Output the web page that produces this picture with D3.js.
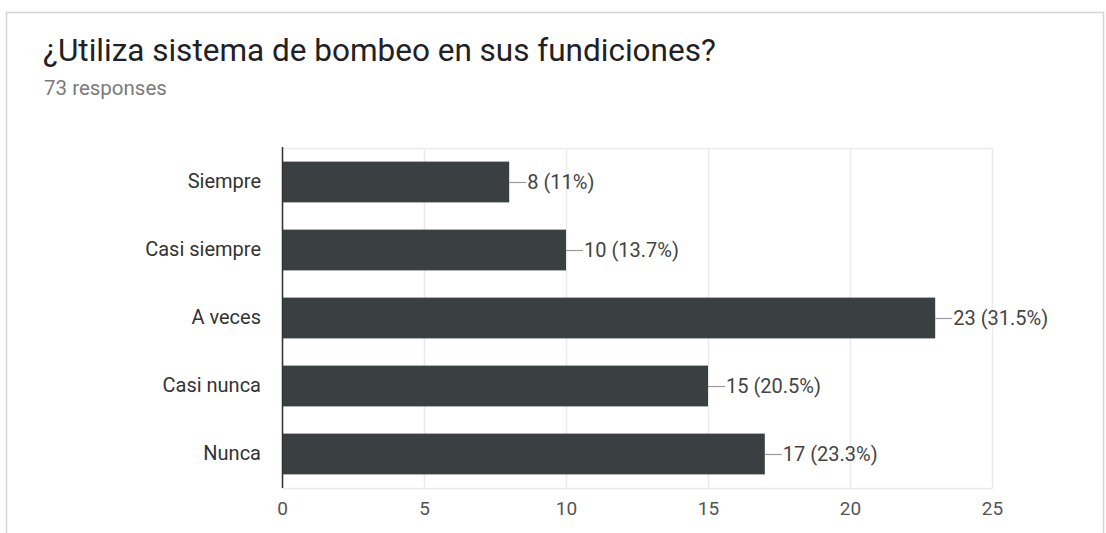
<!DOCTYPE html>
<html>
<head>
<meta charset="utf-8">
<script src="https://cdn.jsdelivr.net/npm/d3@7"></script>
<style>
  html, body { margin: 0; padding: 0; background: #ffffff; }
  svg { display: block; }
  text { font-family: Roboto, "Open Sans", Arial, sans-serif; }
</style>
</head>
<body>
<svg id="chart" width="1106" height="533"></svg>
<script>
// Survey question and response counts
const title = "¿Utiliza sistema de bombeo en sus fundiciones?";
const subtitle = "73 responses";
const categories = ["Siempre", "Casi siempre", "A veces", "Casi nunca", "Nunca"];
const counts = [8, 10, 23, 15, 17];
const percents = ["11%", "13.7%", "31.5%", "20.5%", "23.3%"];
const tickValues = [0, 5, 10, 15, 20, 25];

const svg = d3.select("#chart");

// Card frame
svg.append("rect")
  .attr("x", 6.5).attr("y", 12.5)
  .attr("width", 1097).attr("height", 540)
  .attr("fill", "#ffffff")
  .attr("stroke", "#d6d6d6")
  .attr("stroke-width", 1.5);

svg.append("text")
  .attr("x", 43).attr("y", 61)
  .attr("font-size", 31.5)
  .attr("fill", "#202124")
  .text(title);

svg.append("text")
  .attr("x", 44).attr("y", 95)
  .attr("font-size", 20.5)
  .attr("fill", "#7a7a7a")
  .text(subtitle);

const plot = { left: 282, right: 992, top: 148, bottom: 488 };

const x = d3.scaleLinear().domain([0, 25]).range([plot.left, plot.right]);
const y = d3.scaleBand().domain(categories)
  .range([plot.top, plot.bottom])
  .paddingInner(0.4).paddingOuter(0.2);

// Vertical gridlines
svg.append("g")
  .selectAll("line")
  .data(tickValues)
  .join("line")
  .attr("x1", d => x(d) + 0.5).attr("x2", d => x(d) + 0.5)
  .attr("y1", plot.top).attr("y2", plot.bottom)
  .attr("stroke", "#ebebeb").attr("stroke-width", 1.5);

// Top and bottom frame lines
svg.append("g")
  .selectAll("line")
  .data([plot.top, plot.bottom])
  .join("line")
  .attr("x1", plot.left).attr("x2", plot.right + 1)
  .attr("y1", d => d + 0.5).attr("y2", d => d + 0.5)
  .attr("stroke", "#ebebeb").attr("stroke-width", 1.5);

// Bottom axis tick labels
const xAxis = d3.axisBottom(x).tickValues(tickValues).tickSize(0).tickPadding(14);
const ax = svg.append("g")
  .attr("transform", `translate(0,${plot.bottom})`)
  .call(xAxis);
ax.select(".domain").remove();
ax.selectAll("text")
  .attr("font-size", 19)
  .attr("font-family", "Roboto, Arial, sans-serif")
  .attr("fill", "#555555");

// Bars
svg.append("g")
  .selectAll("rect")
  .data(counts)
  .join("rect")
  .attr("x", x(0))
  .attr("y", (d, i) => y(categories[i]))
  .attr("width", d => x(d) - x(0))
  .attr("height", y.bandwidth())
  .attr("fill", "#3a3f41");

// Category labels
const yAxis = d3.axisLeft(y).tickSize(0).tickPadding(21);
const ay = svg.append("g")
  .attr("transform", `translate(${plot.left},0)`)
  .call(yAxis);
ay.select(".domain").remove();
ay.selectAll("text")
  .attr("font-size", 20)
  .attr("font-family", "Roboto, Arial, sans-serif")
  .attr("fill", "#333333");

// Baseline axis line
svg.append("line")
  .attr("x1", plot.left + 0.5).attr("x2", plot.left + 0.5)
  .attr("y1", plot.top - 1).attr("y2", plot.bottom)
  .attr("stroke", "#333333").attr("stroke-width", 1.5);

// Value annotations with leader lines
const ann = svg.append("g")
  .selectAll("g")
  .data(counts)
  .join("g")
  .attr("transform", (d, i) => `translate(${x(d)},${y(categories[i]) + y.bandwidth() / 2})`);

ann.append("line")
  .attr("x1", 0).attr("x2", 17)
  .attr("y1", 0.5).attr("y2", 0.5)
  .attr("stroke", "#9a9a9a").attr("stroke-width", 1.2);

ann.append("text")
  .attr("x", 18).attr("dy", "0.35em")
  .attr("font-size", 20)
  .attr("fill", "#444444")
  .text((d, i) => `${d} (${percents[i]})`);
</script>
</body>
</html>
